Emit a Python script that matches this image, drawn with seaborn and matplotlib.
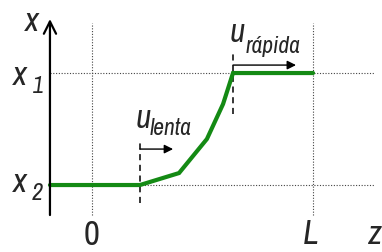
import numpy as np
import pandas as pd
import seaborn as sns
import matplotlib.pyplot as plt
from matplotlib import font_manager

sns.set_style("white")

# fuente estrecha si existe
fam, stretch = "Liberation Sans", "normal"
for f in font_manager.fontManager.ttflist:
    if "Narrow" in f.name or "Condensed" in f.name:
        fam, stretch = f.name, "normal"
        break
else:
    for f in font_manager.fontManager.ttflist:
        if f.stretch in ("condensed", "semi-condensed") and "Sans" in f.name:
            fam, stretch = f.name, f.stretch
            break
plt.rcParams["font.family"] = [fam, "DejaVu Sans"]
narrow = fam != "Liberation Sans"

# perfil de concentracion (z normalizado con L = 1, x2 = 0, x1 = 1)
z_perfil = [-0.19, 0.217, 0.394, 0.52, 0.593, 0.638, 1.0]
x_perfil = [0.0, 0.0, 0.107, 0.411, 0.723, 1.0, 1.0]

z_frentes = [0.217, 0.638]
frente_bajo = [-0.161, 0.634]
frente_alto = [0.393, 1.188]
flecha_x = [0.321, 1.071]
flecha_fin = [0.367, 0.923]

data = pd.DataFrame({"z": z_perfil, "x": x_perfil})

fig = plt.figure(figsize=(3.82, 2.53), dpi=100)
ax = fig.add_axes([0, 0, 1, 1])
ax.set_xlim(-0.416, 1.312)
ax.set_ylim(-0.598, 1.661)
ax.axis("off")

# lineas de referencia punteadas
dot = dict(color="#444444", lw=0.8, ls=(0, (1, 1.5)))
ax.plot([-0.19, 1.28], [1, 1], **dot)
ax.plot([-0.19, 1.28], [0, 0], **dot)
ax.plot([0, 0], [-0.268, 1.446], **dot)
ax.plot([1, 1], [-0.268, 1.446], **dot)

# ejes con flecha
ax.annotate("", xy=(1.484, -0.268), xytext=(-0.19, -0.268),
            arrowprops=dict(arrowstyle="->", lw=1.6, color="black",
                            mutation_scale=22, shrinkA=0, shrinkB=0))
ax.annotate("", xy=(-0.19, 1.482), xytext=(-0.19, -0.268),
            arrowprops=dict(arrowstyle="->", lw=1.6, color="black",
                            mutation_scale=22, shrinkA=0, shrinkB=0))

# frentes
for zf, lo, hi, yf, zf2 in zip(z_frentes, frente_bajo, frente_alto, flecha_x, flecha_fin):
    ax.plot([zf, zf], [lo, hi], color="black", lw=1.1, ls=(0, (4, 3)))
    ax.annotate("", xy=(zf2, yf), xytext=(zf, yf),
                arrowprops=dict(arrowstyle="-|>", lw=1.0, color="black",
                                mutation_scale=13, shrinkA=0, shrinkB=0))

sns.lineplot(data=data, x="z", y="x", ax=ax, color="#148a14", lw=3.0,
             sort=False, estimator=None, solid_joinstyle="miter")

big = 24
small = 17 if narrow else 14
it = dict(style="italic", va="baseline", ha="left", fontstretch=stretch)
ax.text(-0.303, 1.384, "x", fontsize=big, **it)
ax.text(-0.357, 0.902, "x", fontsize=big, **it)
ax.text(-0.267, 0.83, "1", fontsize=small, **it)
ax.text(-0.357, -0.054, "x", fontsize=big, **it)
ax.text(-0.271, -0.125, "2", fontsize=small, **it)
ax.text(0.0, -0.525, "0", fontsize=25, ha="center", va="baseline", fontstretch=stretch)
ax.text(0.955, -0.52, "L", fontsize=25, **it)
ax.text(1.25, -0.52, "z", fontsize=big, **it)
ax.text(0.199, 0.518, "u", fontsize=big, **it)
ax.text(0.262, 0.455, "lenta", fontsize=small, **it)
ax.text(0.624, 1.286, "u", fontsize=big, **it)
ax.text(0.697, 1.1875, "rápida", fontsize=small, **it)

fig.savefig("out.png", dpi=100)
